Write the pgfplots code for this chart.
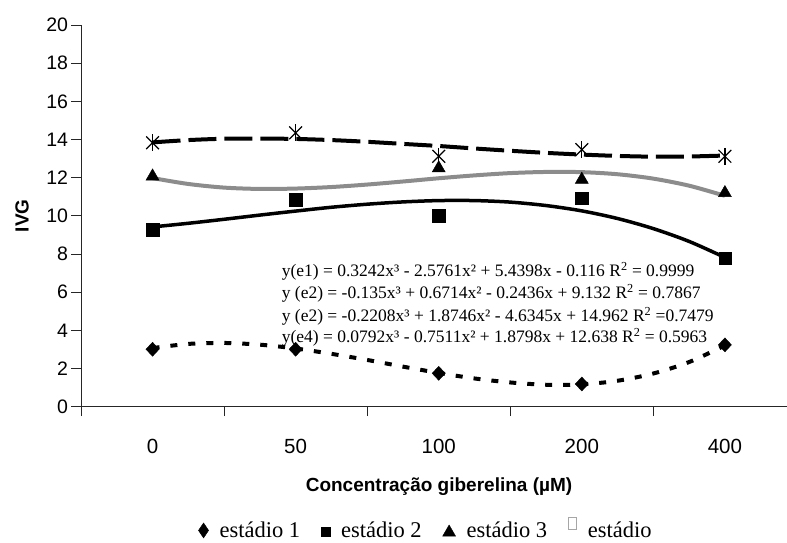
\documentclass[border=0pt]{standalone}
\usepackage{fontspec}
\setmainfont{Liberation Serif}
\newfontfamily\arial{Liberation Sans}
\usepackage{pgfplots}
\pgfplotsset{compat=1.18}
\begin{document}
\begin{tikzpicture}
\useasboundingbox (-81pt,-136.3pt) rectangle (706pt,406.7pt);
\begin{axis}[
  at={(0,0)}, anchor=south west,
  scale only axis, width=706pt, height=381.7pt,
  xmin=0.5, xmax=5.434, ymin=0, ymax=20,
  axis lines=left, axis line style={-, line width=0.9pt, black!85},
  clip=false,
  ytick={0,2,...,20},
  xtick={0.5,1.5,2.5,3.5,4.5},
  xticklabels={},
  extra x ticks={1,2,3,4,5},
  extra x tick labels={0,50,100,200,400},
  extra x tick style={tick style={draw=none}, ticklabel style={yshift=-19pt, font=\arial\fontsize{20.5}{20.5}\selectfont}},
  tick align=outside,
  major tick length=9.5pt,
  tick style={black!85, line width=0.9pt},
  /pgf/number format/assume math mode=true,
  ticklabel style={font=\arial\fontsize{19.5}{19.5}\selectfont},
  xlabel={Concentração giberelina (µM)},
  ylabel={IVG},
  xlabel style={at={(axis description cs:0.5071,-0.2104)}, anchor=center, font=\arial\bfseries\fontsize{19}{19}\selectfont},
  ylabel style={at={(axis description cs:-0.0836,0.5)}, anchor=center, font=\arial\bfseries\fontsize{19}{19}\selectfont},
  legend columns=4,
  legend style={draw=none, fill=none, at={(axis description cs:0.4887,-0.318)}, anchor=center,
    font=\fontsize{22.5}{22.5}\selectfont, nodes={inner ysep=0pt},
    /tikz/every odd column/.append style={column sep=9pt},
    /tikz/every even column/.append style={column sep=19pt}},
  legend cell align=left,
]
% equations (below the markers)
\node[anchor=base west, font=\fontsize{17.5}{17.5}\selectfont, inner sep=0pt] at (axis cs:1.902,6.81) {y(e1) = 0.3242x³ - 2.5761x² + 5.4398x - 0.116 R\textsuperscript{2} = 0.9999};
\node[anchor=base west, font=\fontsize{17.5}{17.5}\selectfont, inner sep=0pt] at (axis cs:1.902,5.68) {y (e2) = -0.135x³ + 0.6714x² - 0.2436x + 9.132 R\textsuperscript{2} = 0.7867};
\node[anchor=base west, font=\fontsize{17.5}{17.5}\selectfont, inner sep=0pt] at (axis cs:1.902,4.45) {y (e2) = -0.2208x³ + 1.8746x² - 4.6345x + 14.962 R\textsuperscript{2} =0.7479};
\node[anchor=base west, font=\fontsize{17.5}{17.5}\selectfont, inner sep=0pt] at (axis cs:1.902,3.34) {y(e4) = 0.0792x³ - 0.7511x² + 1.8798x + 12.638 R\textsuperscript{2} = 0.5963};
% trend lines
\addplot[forget plot, black, line width=4pt, dash pattern=on 7pt off 11pt, smooth] coordinates {
(1,3.07)(1.25,3.29)(1.5,3.34)(1.75,3.25)(2,3.05)(2.25,2.77)(2.5,2.45)(2.75,2.10)(3,1.77)
(3.25,1.48)(3.5,1.27)(3.75,1.15)(4,1.17)(4.25,1.36)(4.5,1.74)(4.75,2.34)(5,3.21)};
\addplot[forget plot, black, line width=3.5pt, smooth] coordinates {
(1,9.42)(1.25,9.61)(1.5,9.82)(1.75,10.04)(2,10.25)(2.25,10.45)(2.5,10.61)(2.75,10.73)(3,10.80)
(3.25,10.80)(3.5,10.72)(3.75,10.54)(4,10.26)(4.25,9.86)(4.5,9.33)(4.75,8.66)(5,7.82)};
\addplot[forget plot, black!45, line width=4pt, smooth] coordinates {
(1,11.98)(1.25,11.67)(1.5,11.48)(1.75,11.41)(2,11.43)(2.25,11.51)(2.5,11.64)(2.75,11.80)(3,11.97)
(3.25,12.12)(3.5,12.24)(3.75,12.30)(4,12.29)(4.25,12.18)(4.5,11.95)(4.75,11.58)(5,11.05)};
\addplot[forget plot, black, line width=4pt, dash pattern=on 28pt off 8pt, smooth] coordinates {
(1,13.85)(1.25,13.97)(1.5,14.04)(1.75,14.05)(2,14.03)(2.25,13.97)(2.5,13.88)(2.75,13.77)(3,13.66)
(3.25,13.53)(3.5,13.41)(3.75,13.30)(4,13.21)(4.25,13.14)(4.5,13.10)(4.75,13.11)(5,13.16)};
% markers
\addplot[only marks, mark=diamond*, mark size=7pt, mark options={xscale=1.25, black},
  legend image code/.code={\draw[black, mark=diamond*, mark size=7.5pt, mark options={xscale=0.9}] plot coordinates {(0pt,0pt)};}]
  coordinates {(1,3.01)(2,3.01)(3,1.75)(4,1.19)(5,3.24)};
\addlegendentry{estádio 1}
\addplot[only marks, mark=square*, mark size=6.2pt, mark options={black},
  legend image code/.code={\draw[black, mark=square*, mark size=4.4pt] plot coordinates {(0pt,-1pt)};}]
  coordinates {(1,9.28)(2,10.85)(3,10.0)(4,10.94)(5,7.79)};
\addlegendentry{estádio 2}
\addplot[only marks, mark=triangle*, mark size=7.5pt, mark options={black},
  legend image code/.code={\draw[black, mark=triangle*, mark size=7.5pt] plot coordinates {(0pt,-2pt)};}]
  coordinates {(1,12.07)(3,12.5)(4,11.9)(5,11.2)};
\addlegendentry{estádio 3}
\addplot[forget plot, only marks, mark=x, mark size=9pt, mark options={black, line width=1.2pt}]
  coordinates {(1,13.83)(2,14.35)(3,13.12)(4,13.47)(5,13.12)};
\addplot[forget plot, only marks, mark=|, mark size=8.5pt, mark options={black, line width=1.2pt}]
  coordinates {(1,13.83)(2,14.35)(3,13.12)(4,13.47)(5,13.12)};
\addlegendimage{legend image code/.code={\draw[gray!70, line width=0.6pt] (-4pt,1pt) rectangle (4pt,13pt);}}
\addlegendentry{estádio}
\end{axis}
\end{tikzpicture}
\end{document}
